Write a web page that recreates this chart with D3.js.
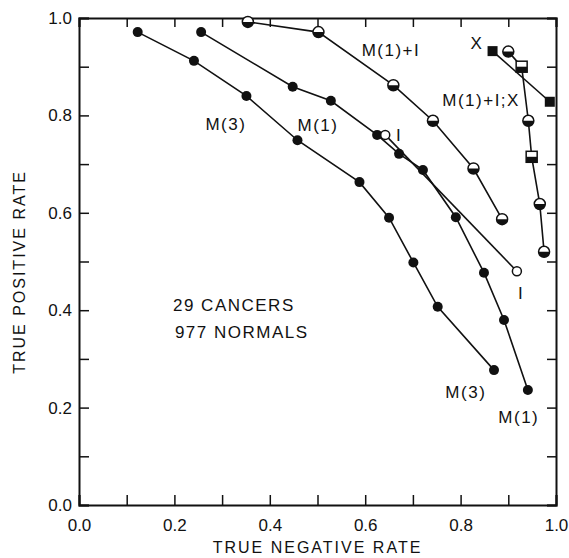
<!DOCTYPE html>
<html>
<head>
<meta charset="utf-8">
<script src="https://cdn.jsdelivr.net/npm/d3@7"></script>
<style>
  body { margin: 0; background: #fff; }
  text { font-family: "Liberation Sans", Arial, sans-serif; fill: #111; }
</style>
</head>
<body>
<div id="chart"></div>
<script>
(function(){
  'use strict';

  // values (x = true negative rate, y = true positive rate)
  var m3TNR = [0.123, 0.241, 0.351, 0.458, 0.588, 0.650, 0.701, 0.752, 0.870],
      m3TPR = [0.971, 0.912, 0.840, 0.749, 0.663, 0.590, 0.498, 0.407, 0.277];

  var m1TNR = [0.256, 0.448, 0.528, 0.625, 0.671, 0.721, 0.790, 0.849, 0.891, 0.941],
      m1TPR = [0.971, 0.859, 0.830, 0.760, 0.721, 0.688, 0.591, 0.477, 0.380, 0.236];

  var iTNR = [0.642, 0.918],
      iTPR = [0.760, 0.480];

  var m1iTNR = [0.354, 0.502, 0.659, 0.742, 0.827, 0.887],
      m1iTPR = [0.992, 0.971, 0.862, 0.789, 0.691, 0.587];

  var xTNR = [0.867, 0.987],
      xTPR = [0.932, 0.828];

  var m1ixTNR = [0.900, 0.928, 0.942, 0.949, 0.966, 0.975],
      m1ixTPR = [0.931, 0.900, 0.789, 0.715, 0.618, 0.520],
      m1ixShape = ['circle', 'square', 'circle', 'square', 'circle', 'circle'];

  var tickVals = [0, 0.1, 0.2, 0.3, 0.4, 0.5, 0.6, 0.7, 0.8, 0.9, 1.0],
      tickLabels = ['0.0', '', '0.2', '', '0.4', '', '0.6', '', '0.8', '', '1.0'];

  var W = 569, H = 558,
      margin = {top: 18, right: 13, bottom: 53, left: 79},
      w = W - margin.left - margin.right,
      h = H - margin.top - margin.bottom;

  var svg = d3.select('#chart').append('svg')
      .attr('width', W)
      .attr('height', H);

  var g = svg.append('g')
      .attr('transform', 'translate(' + margin.left + ',' + margin.top + ')');

  var x = d3.scaleLinear().domain([0, 1]).range([0, w]),
      y = d3.scaleLinear().domain([0, 1]).range([h, 0]);

  function lbl(d, i) { return tickLabels[i]; }

  // axes, ticks pointing inward on all four sides
  g.append('g')
    .attr('class', 'axis')
    .attr('transform', 'translate(0,' + h + ')')
    .call(d3.axisBottom(x).tickValues(tickVals).tickSize(-10).tickPadding(14).tickFormat(lbl));
  g.append('g')
    .attr('class', 'axis')
    .call(d3.axisLeft(y).tickValues(tickVals).tickSize(-10).tickPadding(7).tickFormat(lbl));
  g.append('g')
    .attr('class', 'axis')
    .call(d3.axisTop(x).tickValues(tickVals).tickSize(-9).tickFormat(''));
  g.append('g')
    .attr('class', 'axis')
    .attr('transform', 'translate(' + w + ',0)')
    .call(d3.axisRight(y).tickValues(tickVals).tickSize(-9).tickFormat(''));

  g.selectAll('.axis path').attr('stroke', '#111').attr('stroke-width', 2);
  g.selectAll('.axis line').attr('stroke', '#111').attr('stroke-width', 1.5);
  g.selectAll('.axis text')
    .style('font-size', '17px')
    .style('font-family', '"Liberation Sans", Arial, sans-serif')
    .attr('fill', '#111');

  // axis titles
  svg.append('text')
    .attr('x', margin.left + w / 2)
    .attr('y', 553)
    .attr('text-anchor', 'middle')
    .style('font-size', '16px')
    .style('letter-spacing', '2px')
    .text('TRUE NEGATIVE RATE');

  svg.append('text')
    .attr('transform', 'translate(25,272) rotate(-90)')
    .attr('text-anchor', 'middle')
    .style('font-size', '16px')
    .style('letter-spacing', '2px')
    .text('TRUE POSITIVE RATE');

  var line = d3.line()
    .x(function(d){ return x(d[0]); })
    .y(function(d){ return y(d[1]); });

  function pts(xs, ys) { return xs.map(function(v, i){ return [v, ys[i]]; }); }

  function drawLine(data) {
    g.append('path')
      .datum(data)
      .attr('d', line)
      .attr('fill', 'none')
      .attr('stroke', '#111')
      .attr('stroke-width', 1.6);
  }

  var m3 = pts(m3TNR, m3TPR),
      m1 = pts(m1TNR, m1TPR),
      iS = pts(iTNR, iTPR),
      m1i = pts(m1iTNR, m1iTPR),
      xs = pts(xTNR, xTPR),
      m1ix = pts(m1ixTNR, m1ixTPR);

  [m3, m1, iS, m1i, xs, m1ix].forEach(drawLine);

  // filled circles
  function filled(data) {
    g.selectAll(null).data(data).enter()
      .append('circle')
      .attr('cx', function(d){ return x(d[0]); })
      .attr('cy', function(d){ return y(d[1]); })
      .attr('r', 5)
      .attr('fill', '#111');
  }
  filled(m3);
  filled(m1);

  // open circles
  g.selectAll(null).data(iS).enter()
    .append('circle')
    .attr('cx', function(d){ return x(d[0]); })
    .attr('cy', function(d){ return y(d[1]); })
    .attr('r', 4.5)
    .attr('fill', '#fff')
    .attr('stroke', '#111')
    .attr('stroke-width', 1.5);

  // half filled markers (top white, bottom black)
  function half(data, shapes) {
    var r = 5.5;
    var mk = g.selectAll(null).data(data).enter()
      .append('g')
      .attr('transform', function(d){ return 'translate(' + x(d[0]) + ',' + y(d[1]) + ')'; });
    mk.each(function(d, i) {
      var s = d3.select(this);
      var shape = shapes ? shapes[i] : 'circle';
      if (shape === 'square') {
        s.append('rect').attr('x', -r).attr('y', -r).attr('width', 2 * r).attr('height', 2 * r)
          .attr('fill', '#fff').attr('stroke', '#111').attr('stroke-width', 1.5);
        s.append('rect').attr('x', -r).attr('y', 0).attr('width', 2 * r).attr('height', r)
          .attr('fill', '#111');
      } else {
        s.append('circle').attr('r', r)
          .attr('fill', '#fff').attr('stroke', '#111').attr('stroke-width', 1.5);
        s.append('path')
          .attr('d', 'M' + (-r) + ',0A' + r + ',' + r + ' 0 0 0 ' + r + ',0Z')
          .attr('fill', '#111');
      }
    });
  }
  half(m1i);
  half(m1ix, m1ixShape);

  // filled squares
  g.selectAll(null).data(xs).enter()
    .append('rect')
    .attr('x', function(d){ return x(d[0]) - 5; })
    .attr('y', function(d){ return y(d[1]) - 5; })
    .attr('width', 10)
    .attr('height', 10)
    .attr('fill', '#111');

  // curve labels
  function note(t, tx, ty, anchor) {
    g.append('text')
      .attr('x', x(tx))
      .attr('y', y(ty))
      .attr('dy', '0.35em')
      .attr('text-anchor', anchor || 'middle')
      .style('font-size', '17px')
      .style('letter-spacing', '1.5px')
      .text(t);
  }
  note('M(1)+I', 0.654, 0.934);
  note('X', 0.834, 0.949);
  note('M(1)+I;X', 0.843, 0.832);
  note('I', 0.671, 0.760);
  note('M(3)', 0.308, 0.782);
  note('M(1)', 0.501, 0.780);
  note('I', 0.927, 0.435);
  note('M(3)', 0.811, 0.232);
  note('M(1)', 0.922, 0.181);
  note('29 CANCERS', 0.197, 0.411, 'start');
  note('977 NORMALS', 0.201, 0.355, 'start');
}());
</script>
</body>
</html>
